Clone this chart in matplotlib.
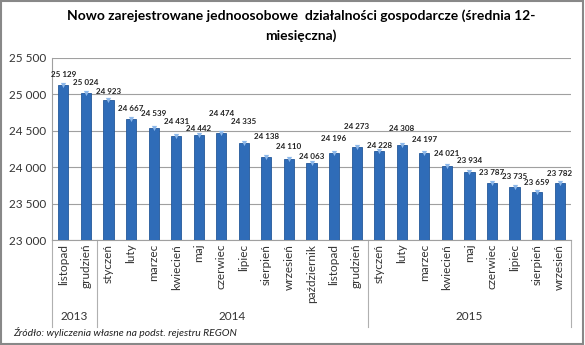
import matplotlib
matplotlib.use('Agg')
import matplotlib.pyplot as plt
from matplotlib.patches import Rectangle
import numpy as np

# dane: średnia 12-miesięczna
miesiace = ['listopad', 'grudzień',
            'styczeń', 'luty', 'marzec', 'kwiecień', 'maj', 'czerwiec', 'lipiec',
            'sierpień', 'wrzesień', 'październik', 'listopad', 'grudzień',
            'styczeń', 'luty', 'marzec', 'kwiecień', 'maj', 'czerwiec', 'lipiec',
            'sierpień', 'wrzesień']
wartosci = [25129, 25024,
            24923, 24667, 24539, 24431, 24442, 24474, 24335, 24138, 24110, 24063, 24196, 24273,
            24228, 24308, 24197, 24021, 23934, 23787, 23735, 23659, 23782]
lata = ['2013', '2014', '2015']
liczba_w_roku = [2, 12, 9]

# odsunięcie etykiet nad słupkiem (px), jak w Excelu - żeby się nie nakładały
odstep_etykiet = [10, 10, 9, 10, 14, 14, 7, 19, 21, 21, 13, 6, 14, 21,
                  5, 16, 13, 12, 12, 10, 10, 10, 10]

plt.rcParams['font.family'] = ['Lato', 'DejaVu Sans']

fig = plt.figure(figsize=(5.85, 3.45), dpi=100)
ax = fig.add_axes([0.089, 0.304, 0.887, 0.528])

x = np.arange(len(wartosci))
ax.bar(x, wartosci, width=0.45, color='#2F6CB8', edgecolor='#24589A', linewidth=0.6, zorder=3)
# jasniejsza "czapka" na szczycie słupka
ax.scatter(x, wartosci, marker='v', s=14, color='#8DB8EA', zorder=4, linewidths=0)

for xi, v, d in zip(x, wartosci, odstep_etykiet):
    ax.annotate(f'{v:,}'.replace(',', ' '), (xi, v), xytext=(0, d * 0.72), textcoords='offset points',
                ha='center', va='center', fontsize=5.8, fontweight='bold', color='#222222')

ax.set_ylim(23000, 25500)
ax.set_xlim(-0.5, len(wartosci) - 0.5)
ax.set_yticks(np.arange(23000, 25501, 500))
ax.set_yticklabels([f'{t:,}'.replace(',', ' ') for t in range(23000, 25501, 500)], fontsize=8.5, color='#333333')
ax.yaxis.grid(True, color='#A0A0A0', linewidth=0.8, zorder=0)
ax.tick_params(axis='y', length=0, pad=4)
ax.tick_params(axis='x', length=0)
ax.set_xticks([])
for s in ['top', 'right']:
    ax.spines[s].set_visible(False)
ax.spines['left'].set_color('#A0A0A0')
ax.spines['bottom'].set_color('#A0A0A0')

trans = ax.get_xaxis_transform()
for xi, m in zip(x, miesiace):
    ax.text(xi, -0.02, m, transform=trans, rotation=90, ha='center', va='top',
            fontsize=8.5, color='#333333')

# separatory lat i etykiety lat
granice = np.concatenate([[0], np.cumsum(liczba_w_roku)]) - 0.5
for g in granice:
    ax.plot([g, g], [0, -0.478], transform=trans, color='#B0B0B0', linewidth=0.8, clip_on=False)
for i, rok in enumerate(lata):
    ax.text((granice[i] + granice[i + 1]) / 2, -0.42, rok, transform=trans,
            ha='center', va='center', fontsize=8.5, color='#333333')

fig.text(0.515, 0.955, 'Nowo zarejestrowane jednoosobowe  działalności gospodarcze (średnia 12-',
         ha='center', va='center', fontsize=10, fontweight='bold')
fig.text(0.515, 0.897, 'miesięczna)', ha='center', va='center', fontsize=10, fontweight='bold')
fig.text(0.022, 0.035, 'Źródło: wyliczenia własne na podst. rejestru REGON', ha='left', va='center',
         fontsize=7.5, style='italic', color='#222222')

fig.patches.append(Rectangle((0.002, 0.003), 0.995, 0.993, transform=fig.transFigure,
                             fill=False, edgecolor='#888888', linewidth=1.5))

fig.savefig('out.png', dpi=100)
